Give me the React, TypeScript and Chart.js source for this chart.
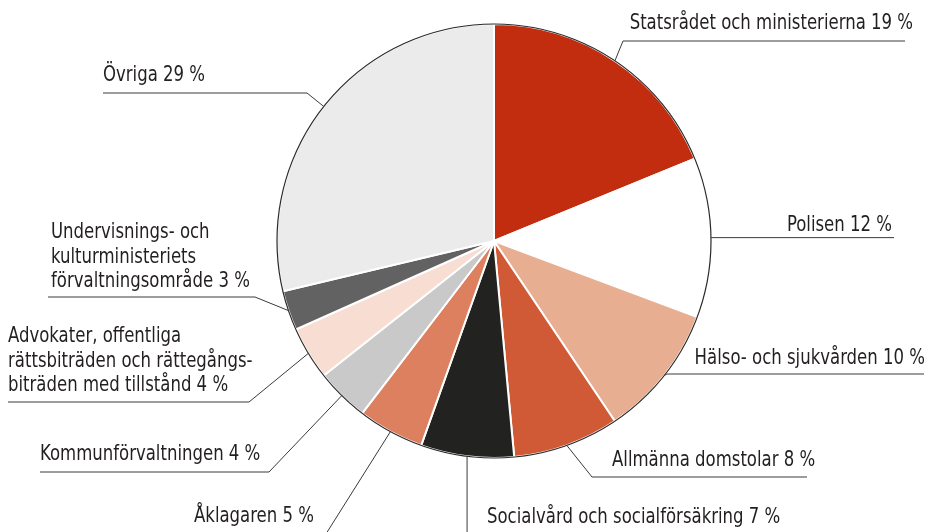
import React, { useEffect, useRef } from "react";
import { Chart, registerables } from "chart.js";

Chart.register(...registerables);

const categories = [
  "Statsrådet och ministerierna",
  "Polisen",
  "Hälso- och sjukvården",
  "Allmänna domstolar",
  "Socialvård och socialförsäkring",
  "Åklagaren",
  "Kommunförvaltningen",
  "Advokater, offentliga rättsbiträden och rättegångsbiträden med tillstånd",
  "Undervisnings- och kulturministeriets förvaltningsområde",
  "Övriga",
];
const shares = [19, 12, 10, 8, 7, 5, 4, 4, 3, 29];
const sliceColors = [
  "#C22D10",
  "#FFFFFF",
  "#E8AE91",
  "#D05A35",
  "#222221",
  "#DC8060",
  "#C9C9C9",
  "#F8DED2",
  "#626262",
  "#EBEBEB",
];
const labelLines = [
  ["Statsrådet och ministerierna 19 %"],
  ["Polisen 12 %"],
  ["Hälso- och sjukvården 10 %"],
  ["Allmänna domstolar 8 %"],
  ["Socialvård och socialförsäkring 7 %"],
  ["Åklagaren 5 %"],
  ["Kommunförvaltningen 4 %"],
  ["Advokater, offentliga", "rättsbiträden och rättegångs-", "biträden med tillstånd 4 %"],
  ["Undervisnings- och", "kulturministeriets", "förvaltningsområde 3 %"],
  ["Övriga 29 %"],
];

// label placement (text anchor + leader line route), not data
type Place = {
  tx: number; ty: number; align: CanvasTextAlign;
  elbow: { x: number | null; y: number } | null; endX: number | null;
};
const placements: Place[] = [
  { tx: 913, ty: 29, align: "right", elbow: { x: 623, y: 41 }, endX: 905 },
  { tx: 892, ty: 231, align: "right", elbow: null, endX: 894 },
  { tx: 925, ty: 364, align: "right", elbow: { x: 667, y: 374 }, endX: 924 },
  { tx: 612, ty: 466, align: "left", elbow: { x: 592, y: 477 }, endX: 807 },
  { tx: 487, ty: 523, align: "left", elbow: { x: null, y: 545 }, endX: null },
  { tx: 314, ty: 522, align: "right", elbow: { x: 319, y: 545 }, endX: null },
  { tx: 40, ty: 460, align: "left", elbow: { x: 269, y: 472 }, endX: 40 },
  { tx: 8, ty: 342, align: "left", elbow: { x: 249, y: 402 }, endX: 8 },
  { tx: 51, ty: 238, align: "left", elbow: { x: 255, y: 297 }, endX: 48 },
  { tx: 103, ty: 81, align: "left", elbow: { x: 307, y: 93 }, endX: 103 },
];

const FONT = '21px "Liberation Sans Narrow", "DejaVu Sans Condensed", "Arial Narrow", sans-serif';
const SQUEEZE = 0.875;

const labelPlugin = {
  id: "pieLabels",
  afterDatasetsDraw(chart: any) {
    const ctx = chart.ctx as CanvasRenderingContext2D;
    const meta = chart.getDatasetMeta(0);
    ctx.save();
    const a0 = meta.data[0];
    ctx.beginPath();
    ctx.arc(a0.x, a0.y, a0.outerRadius, 0, Math.PI * 2);
    ctx.strokeStyle = "#2a2a2a";
    ctx.lineWidth = 1.2;
    ctx.stroke();

    ctx.strokeStyle = "#3a3a3a";
    ctx.lineWidth = 1;
    ctx.fillStyle = "#231f20";
    ctx.font = FONT;
    ctx.textBaseline = "alphabetic";
    meta.data.forEach((arc: any, i: number) => {
      const p = placements[i];
      const mid = (arc.startAngle + arc.endAngle) / 2;
      const ex = arc.x + Math.cos(mid) * arc.outerRadius;
      const ey = arc.y + Math.sin(mid) * arc.outerRadius;
      ctx.beginPath();
      ctx.moveTo(ex, ey);
      let lx = ex, ly = ey;
      if (p.elbow) {
        lx = p.elbow.x === null ? ex : p.elbow.x;
        ly = p.elbow.y;
        ctx.lineTo(lx, ly);
      }
      if (p.endX !== null) ctx.lineTo(p.endX, ly);
      ctx.stroke();
      ctx.textAlign = p.align;
      labelLines[i].forEach((t, k) => {
        ctx.save();
        ctx.translate(p.tx, p.ty + k * 24.5);
        ctx.scale(SQUEEZE, 1);
        ctx.fillText(t, 0, 0);
        ctx.restore();
      });
    });
    ctx.restore();
  },
};

export default function App() {
  const ref = useRef<HTMLCanvasElement>(null);
  useEffect(() => {
    if (!ref.current) return;
    const chart = new Chart(ref.current, {
      type: "pie",
      data: {
        labels: categories,
        datasets: [
          {
            data: shares,
            backgroundColor: sliceColors,
            borderColor: "#FFFFFF",
            borderWidth: 2,
            radius: 217,
          } as any,
        ],
      },
      options: {
        animation: false,
        responsive: false,
        maintainAspectRatio: false,
        layout: { padding: { left: 57, right: 0, top: 0, bottom: 50 } },
        plugins: { legend: { display: false }, tooltip: { enabled: false } },
      },
      plugins: [labelPlugin],
    });
    return () => chart.destroy();
  }, []);
  return (
    <div style={{ position: "fixed", left: 0, top: 0, width: 931, height: 532, background: "#fff" }}>
      <canvas ref={ref} width={931} height={532} style={{ width: 931, height: 532, display: "block" }} />
    </div>
  );
}
